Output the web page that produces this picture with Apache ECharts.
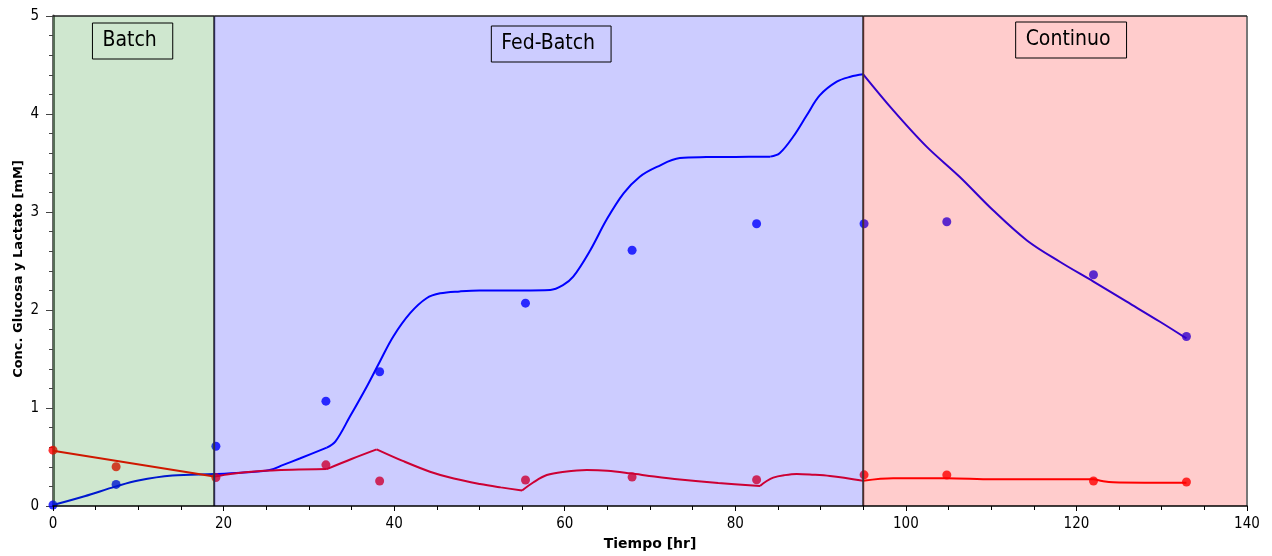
<!DOCTYPE html>
<html>
<head>
<meta charset="utf-8">
<script src="https://cdn.jsdelivr.net/npm/echarts@6/dist/echarts.min.js"></script>
<style>html,body{margin:0;padding:0;background:#fff;}#chart{width:1272px;height:556px;}</style>
</head>
<body>
<div id="chart"></div>
<script>
// Sample (measured) times and concentrations
const sampleT   = [0, 7.4, 19.1, 32.0, 38.3, 55.4, 67.9, 82.5, 95.1, 104.8, 122.0, 132.9];
const glucData  = [0.01, 0.22, 0.61, 1.07, 1.37, 2.07, 2.61, 2.88, 2.88, 2.90, 2.36, 1.73];
const lacData   = [0.57, 0.40, 0.29, 0.42, 0.255, 0.265, 0.295, 0.268, 0.318, 0.316, 0.255, 0.245];

// Model curve (blue)
const glucModelT = [0, 3.7, 7.4, 10, 14, 18.9, 22, 25.4, 27, 29, 32.1, 33.1, 34.8, 36.8, 38.3, 39.9, 41.9, 43.8, 45.4, 47.7, 50, 55, 58.3, 59.8, 61, 63, 64.9, 66.9, 68.8, 70.8, 73.5, 76.6, 80, 84.1, 85.2, 86.8, 88.4, 89.9, 91.9, 93.5, 95, 98.5, 102.4, 106.3, 110.2, 114.2, 118.1, 122, 125.9, 129.8, 132.9];
const glucModelY = [0.01, 0.10, 0.20, 0.26, 0.31, 0.326, 0.34, 0.367, 0.42, 0.487, 0.595, 0.656, 0.91, 1.22, 1.47, 1.73, 1.97, 2.12, 2.17, 2.19, 2.20, 2.20, 2.205, 2.255, 2.34, 2.61, 2.92, 3.19, 3.36, 3.46, 3.55, 3.56, 3.562, 3.565, 3.60, 3.77, 3.99, 4.19, 4.33, 4.38, 4.405, 4.04, 3.67, 3.36, 3.02, 2.71, 2.49, 2.29, 2.085, 1.88, 1.71];
const glucBreaks = [32.1, 84.1, 95];

// Model curve (red)
const lacModelT = [0, 18.9, 21, 24, 28, 32.1, 35, 37.95, 41, 44.2, 47, 50.06, 52.5, 55.0, 56.3, 57.9, 60, 62.6, 65, 67.7, 70.5, 73.5, 78, 82.9, 83.6, 84.45, 85.8, 87.2, 89, 91.1, 95, 98.5, 104.8, 110.2, 122, 123, 124.3, 128, 132.9];
const lacModelY = [0.564, 0.30, 0.33, 0.355, 0.37, 0.377, 0.48, 0.578, 0.46, 0.35, 0.28, 0.225, 0.19, 0.158, 0.24, 0.316, 0.35, 0.367, 0.36, 0.333, 0.30, 0.27, 0.235, 0.204, 0.25, 0.29, 0.315, 0.327, 0.32, 0.306, 0.258, 0.283, 0.283, 0.272, 0.272, 0.255, 0.242, 0.238, 0.238];
const lacBreaks = [18.9, 32.1, 37.95, 55.0, 82.9, 95];

// Phases
const phaseNames = ['Batch', 'Fed-Batch', 'Continuo'];
const phaseStart = [0, 18.9, 95];
const phaseEnd   = [18.9, 95, 140];

const xTitle = 'Tiempo [hr]';
const yTitle = 'Conc. Glucosa y Lactato [mM]';

const FONT = "'DejaVu Sans Condensed', 'DejaVu Sans', sans-serif";
const TITLE_FONT = "'DejaVu Sans', sans-serif";

const phaseColors = ['rgba(0,128,0,0.19)', 'rgba(0,0,255,0.2)', 'rgba(255,0,0,0.2)'];
const labelOffsets = [[-1, 7], [12.5, 10], [16, 6]];
const boundaryColors = ['#333', '#333', '#777'];

function segments(ts, ys, breaks) {
  const segs = [];
  let cur = [];
  ts.forEach((t, i) => {
    cur.push([t, ys[i]]);
    if (breaks.includes(t) && i < ts.length - 1) { segs.push(cur); cur = [[t, ys[i]]]; }
  });
  if (cur.length > 1) segs.push(cur);
  return segs;
}
const lineSeries = (segs, color) => segs.map(d => ({
  type: 'line', data: d, showSymbol: false, symbol: 'none', smooth: 0.35,
  lineStyle: {color: color, width: 2}, z: 2, silent: true
}));

const chart = echarts.init(document.getElementById('chart'), null, {renderer: 'canvas'});
chart.setOption({
  animation: false,
  backgroundColor: '#fff',
  grid: {left: 53, right: 25, top: 16, bottom: 50, outerBoundsMode: 'none', containLabel: false},
  xAxis: {
    type: 'value', min: 0, max: 140, interval: 20, z: 10,
    name: xTitle, nameLocation: 'middle', nameGap: 31, nameMoveOverlap: false,
    nameTextStyle: {fontFamily: TITLE_FONT, fontWeight: 'bold', fontSize: 14, color: '#000'},
    axisLine: {show: true, lineStyle: {color: '#000', width: 1.5}},
    axisTick: {show: true, length: 5, lineStyle: {color: '#000'}},
    minorTick: {show: true, splitNumber: 4, length: 4, lineStyle: {color: '#000'}},
    axisLabel: {fontFamily: FONT, fontSize: 15, color: '#000', margin: 11},
    splitLine: {show: false}
  },
  yAxis: {
    type: 'value', min: 0, max: 5, interval: 1, z: 0,
    name: yTitle, nameLocation: 'middle', nameGap: 28, nameRotate: 90, nameMoveOverlap: false,
    nameTextStyle: {fontFamily: TITLE_FONT, fontWeight: 'bold', fontSize: 13, color: '#000', padding: [0, 16, 0, 0]},
    axisLine: {show: true, lineStyle: {color: '#6a6a6a', width: 3}},
    axisTick: {show: true, length: 7, lineStyle: {color: '#444'}},
    minorTick: {show: true, splitNumber: 5, length: 4, lineStyle: {color: '#444'}},
    axisLabel: {fontFamily: FONT, fontSize: 15, color: '#000', margin: 14},
    splitLine: {show: false}
  },
  series: [
    ...lineSeries(segments(glucModelT, glucModelY, glucBreaks), '#0000ff'),
    ...lineSeries(segments(lacModelT, lacModelY, lacBreaks), '#ff0000'),
    {type: 'scatter', name: 'Glucosa', data: sampleT.map((t, i) => [t, glucData[i]]), symbol: 'circle', symbolSize: 9,
     itemStyle: {color: '#0000ff'}, z: 3, silent: true},
    {type: 'scatter', name: 'Lactato', data: sampleT.map((t, i) => [t, lacData[i]]), symbol: 'circle', symbolSize: 9,
     itemStyle: {color: '#ff0000'}, z: 3, silent: true},
    {type: 'custom', name: 'fases', z: 5, silent: true, clip: false,
     data: phaseNames.map((n, i) => [phaseStart[i], phaseEnd[i], i]),
     encode: {x: [0, 1]},
     renderItem: function (params, api) {
       const s = api.value(0), e = api.value(1), idx = api.value(2);
       const p0 = api.coord([s, 5]);
       const p1 = api.coord([e, 0]);
       const off = labelOffsets[idx];
       return {type: 'group', children: [
         {type: 'rect', shape: {x: p0[0], y: p0[1], width: p1[0] - p0[0], height: p1[1] - p0[1]},
          style: {fill: phaseColors[idx]}},
         {type: 'line', shape: {x1: p1[0], y1: p0[1], x2: p1[0], y2: p1[1]},
          style: {stroke: boundaryColors[idx], lineWidth: 2}},
         {type: 'line', shape: {x1: p0[0], y1: p0[1], x2: p1[0], y2: p0[1]},
          style: {stroke: '#222', lineWidth: 1.5}},
         {type: 'text', x: (p0[0] + p1[0]) / 2 + off[0], y: p0[1] + off[1],
          style: {text: phaseNames[idx], font: "21px 'DejaVu Sans Condensed', 'DejaVu Sans', sans-serif",
                  fill: '#000', align: 'center', verticalAlign: 'top',
                  borderColor: '#000', borderWidth: 1, padding: [6, 16, 7, 10], lineHeight: 23}}
       ]};
     }
    }
  ]
});
</script>
</body>
</html>
